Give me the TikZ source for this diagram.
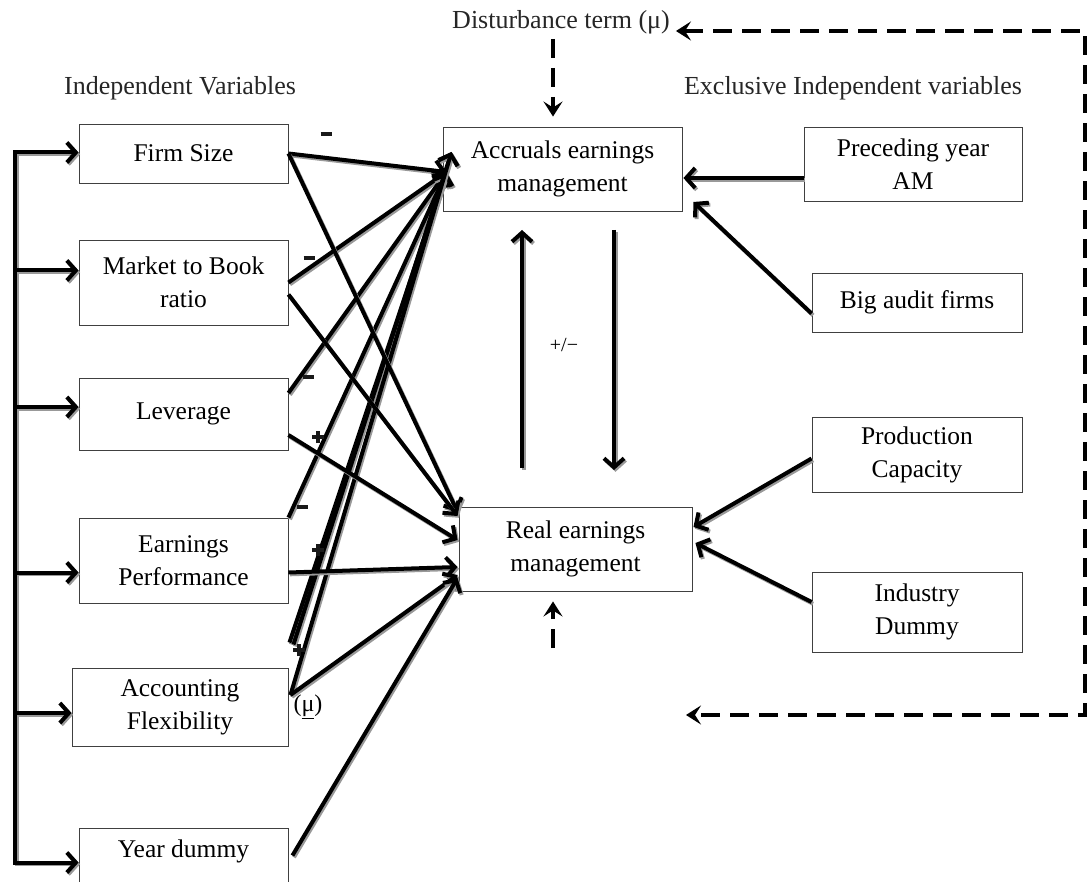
\documentclass[tikz,border=0pt]{standalone}
\usepackage{fontspec}
\setmainfont{Liberation Serif}
\usetikzlibrary{arrows.meta,calc}

\tikzset{
  box/.style={draw=black!75, line width=0.9pt, align=center, inner sep=0pt,
    font=\fontsize{25.5}{33}\selectfont},
  title/.style={font=\fontsize{26}{30}\selectfont, text=black!85, inner sep=2pt},
  sign/.style={inner sep=0pt, text=black!90},
  shade/.style={preaction={draw=black!40, line width=4pt, transform canvas={xshift=1.5pt,yshift=-1.8pt}}},
  lin/.style={line width=4pt, shade},
  arr/.style={lin, -{Straight Barb[length=9pt,width=20pt]}},
  dashed line/.style={line width=4.5pt, dash pattern=on 19pt off 10pt},
  dasharr/.style={dashed line, -{Stealth[length=15pt,width=19pt,inset=6pt]}},
}
\newcommand{\minussign}{\rule{11pt}{3.8pt}}
\newcommand{\plussign}{\rlap{\rule[4.1pt]{12pt}{3.8pt}}\hspace{4.1pt}\rule{3.8pt}{12pt}\hspace{4.1pt}}

\begin{document}
\begin{tikzpicture}[x=1pt,y=-1pt]
\useasboundingbox (0,0) rectangle (1092,882);

% titles
\node[title] (dist) at (561,22) {Disturbance term (μ)};
\node[title] (indep) at (180,88) {Independent Variables};
\node[title] (excl) at (853,88) {Exclusive Independent variables};

% left column
\node[box, minimum width=209pt, minimum height=59pt] (fs) at (183.5,153.5) {Firm Size};
\node[box, minimum width=209pt, minimum height=85pt] (mb) at (183.5,282.5) {Market to Book\\ratio};
\node[box, minimum width=209pt, minimum height=72pt] (lv) at (183.5,414) {Leverage};
\node[box, minimum width=209pt, minimum height=85pt] (ep) at (183.5,560.5) {Earnings\\Performance};
\node[box, minimum width=216pt, minimum height=78pt] (af) at (180,707) {Accounting\\Flexibility};
\node[box, minimum width=209pt, text height=29pt, text depth=33pt] (yd) at (183.5,859.5) {Year dummy};

% middle
\node[box, minimum width=239pt, minimum height=84pt] (acc) at (562.5,169) {Accruals earnings\\management};
\node[box, minimum width=233pt, minimum height=84pt] (rem) at (575.5,549) {Real earnings\\management};

% right column
\node[box, minimum width=218pt, minimum height=74pt] (pa) at (913,164) {Preceding year\\AM};
\node[box, minimum width=210pt, minimum height=59pt] (ba) at (917,302.5) {Big audit firms};
\node[box, minimum width=210pt, minimum height=75pt] (pc) at (917,454.5) {Production\\Capacity};
\node[box, minimum width=210pt, minimum height=80pt] (id) at (917,612) {Industry\\Dummy};

% spine on the left
\coordinate (sp) at (15,0);
\draw[arr] ($(sp |- lv.west)+(0,-7)$) |- ($(fs.west)+(0,-1)$);
\draw[arr] ($(sp |- lv.west)+(0,-7)$) |- ($(yd.west)+(0,3)$);
\foreach \b/\d in {mb/-12,lv/-7,ep/12,af/6}
  \draw[arr] ($(sp |- \b.west)+(0,\d)$) -- ($(\b.west)+(0,\d)$);

% targets
\coordinate (a1) at ($(acc.west)+(4,3)$);
\coordinate (a2) at ($(acc.west)+(9,-17)$);
\coordinate (r1) at ($(rem.west)+(-1,-37)$);
\coordinate (r2) at ($(rem.west)+(-1,-33)$);
\coordinate (r3) at ($(rem.west)+(-1,-9)$);
\coordinate (r4) at ($(rem.west)+(-1,18)$);
\coordinate (r5) at ($(rem.west)+(-1,26)$);
\coordinate (r6) at ($(rem.west)+(-1,29)$);

% into accruals
\draw[arr] (fs.east) -- (a1);
\draw[arr] (mb.east) -- (a1);
\draw[arr] ($(lv.east)+(0,-21)$) -- (a1);
\draw[arr] (ep.north east) -- (a1);
\draw[arr] ($(af.north east)+(1,-25)$) -- (a1);
\draw[arr] ($(af.north east)+(5,-23)$) -- (a2);
\draw[arr] ($(af.east)+(2,-12)$) -- (a2);

% into real
\draw[arr] (fs.east) -- (r1);
\draw[arr] ($(mb.east)+(0,12)$) -- (r2);
\draw[arr] ($(lv.east)+(0,21)$) -- (r3);
\draw[arr] ($(ep.east)+(0,12)$) -- (r4);
\draw[arr] ($(af.east)+(2,-12)$) -- (r5);
\draw[arr] ($(yd.east)+(4,-4)$) -- (r6);

% signs
\node[sign] (s1) at (326,134) {\minussign};
\node[sign] (s2) at (309,258) {\minussign};
\node[sign] (s3) at (308,377) {\minussign};
\node[sign] (s4) at (316,437) {\plussign};
\node[sign] (s5) at (302,507) {\minussign};
\node[sign] (s6) at (316,550) {\plussign};
\node[sign] (s7) at (297,650) {\plussign};
\node[font=\fontsize{24}{24}\selectfont, inner sep=0pt] (mu) at (308,707) {(\underline{μ})};

% between the two
\coordinate (upS) at (522,468);
\coordinate (upE) at (522,230);
\coordinate (dnS) at (614,230);
\coordinate (dnE) at (614,470);
\draw[arr] (upS) -- (upE);
\draw[arr] (dnS) -- (dnE);
\node[font=\fontsize{20}{20}\selectfont] (pm) at (564,345) {+/−};

% exclusive variables
\draw[arr] ($(pa.west)+(0,14)$) -- ($(acc.east)+(1,9)$);
\draw[arr] ($(ba.west)+(0,11)$) -- ($(acc.east)+(11,33)$);
\draw[arr] ($(pc.west)+(0,4)$) -- ($(rem.east)+(1,-22)$);
\draw[arr] ($(id.west)+(0,-10)$) -- ($(rem.east)+(3,-6)$);

% disturbance term
\coordinate (dv) at (553,0);
\coordinate (lpT) at (1085,31);
\coordinate (lpB) at (1085,715);
\coordinate (lpE) at (686,715);
\coordinate (low) at (553,648);
\draw[dasharr] ($(dist.south -| dv)+(0,3)$) -- ($(acc.north -| dv)+(0,-10)$);
\draw[dasharr] (low) -- ($(rem.south -| dv)+(0,10)$);
\draw[dashed line, {Stealth[length=15pt,width=19pt,inset=6pt]}-{Stealth[length=15pt,width=19pt,inset=6pt]}]
  ($(dist.east)+(4,9)$) -- (lpT) -- (lpB) -- (lpE);
\end{tikzpicture}
\end{document}
